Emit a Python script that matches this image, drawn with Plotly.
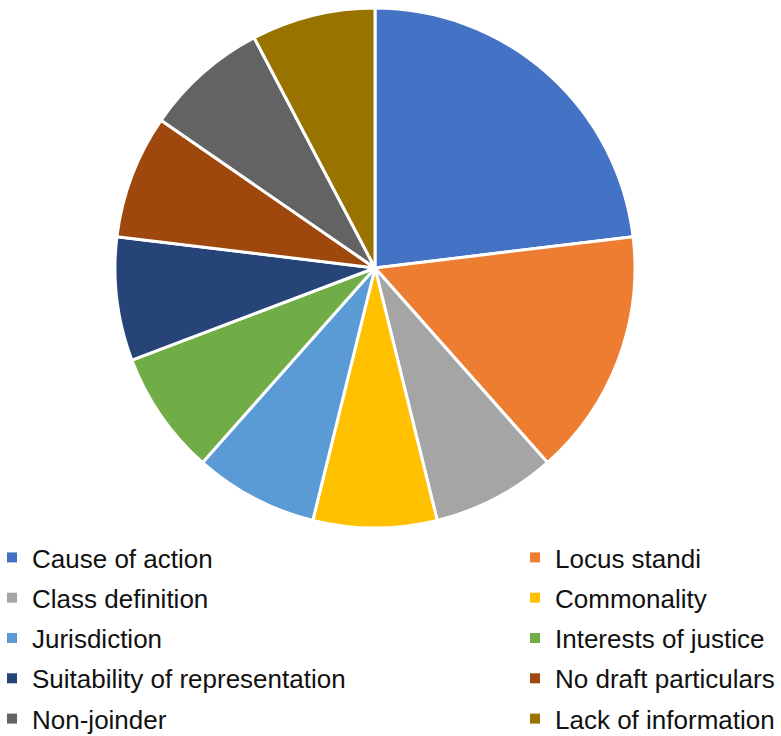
import plotly.graph_objects as go

categories = ["Cause of action", "Locus standi", "Class definition", "Commonality",
              "Jurisdiction", "Interests of justice", "Suitability of representation",
              "No draft particulars", "Non-joinder", "Lack of information"]
values = [3, 2, 1, 1, 1, 1, 1, 1, 1, 1]
colors = ["#4472C4", "#ED7D31", "#A5A5A5", "#FFC000", "#5B9BD5",
          "#70AD47", "#264478", "#9E480E", "#636363", "#997300"]

W, H = 781, 736
cx, cy, r = 375, 268, 260
FONT = "Liberation Sans, Arial, sans-serif"

fig = go.Figure(go.Pie(
    labels=categories, values=values, sort=False, direction="clockwise", rotation=0,
    marker=dict(colors=colors, line=dict(color="white", width=3)),
    textinfo="none", hoverinfo="label+value", showlegend=False,
    domain=dict(x=[(cx - r) / W, (cx + r) / W], y=[1 - (cy + r) / H, 1 - (cy - r) / H]),
))

# legend entries (two columns, filled row by row)
for i, (cat, col) in enumerate(zip(categories, colors)):
    fig.add_trace(go.Scatter(
        x=[None], y=[None], mode="markers", name=cat,
        marker=dict(symbol="square", size=10, color=col),
        legend="legend" if i % 2 == 0 else "legend2",
        legendgroup=cat, showlegend=True, hoverinfo="skip",
    ))

leg_common = dict(orientation="v", yanchor="top", xanchor="left",
                  traceorder="grouped", tracegroupgap=3.5, indentation=-8,
                  font=dict(size=26, family=FONT, color="#111111"),
                  bgcolor="rgba(0,0,0,0)", itemclick=False)
fig.update_layout(
    width=W, height=H, margin=dict(l=0, r=0, t=0, b=0, autoexpand=False),
    paper_bgcolor="white", plot_bgcolor="white",
    font=dict(family=FONT, color="#111111"),
    xaxis=dict(visible=False), yaxis=dict(visible=False),
    legend=dict(x=0, y=1 - 534 / H, **leg_common),
    legend2=dict(x=523 / W, y=1 - 534 / H, **leg_common),
)
fig.write_html("out.html", config={"displayModeBar": False},
               post_script="document.body.style.margin='0';")
